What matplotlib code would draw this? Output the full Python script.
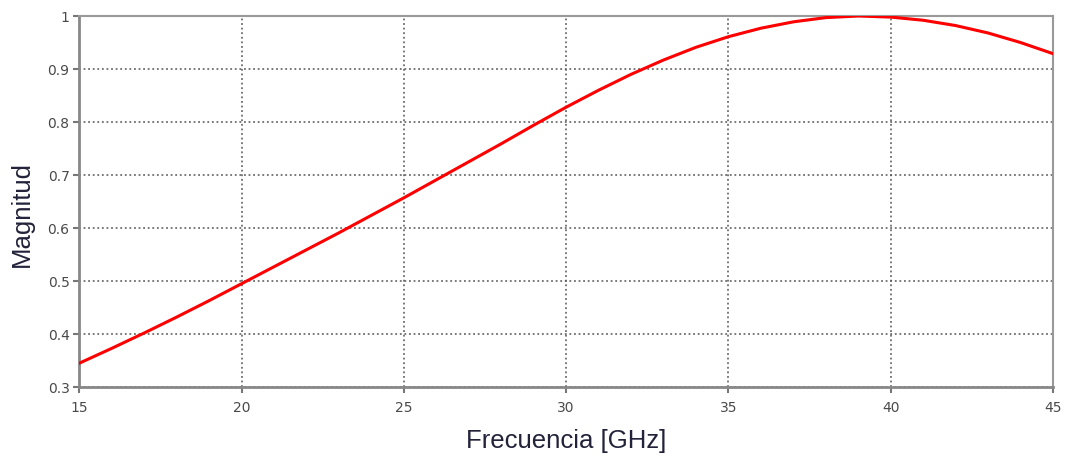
import matplotlib
matplotlib.use("Agg")
import matplotlib.pyplot as plt

# Frequency sweep (GHz) and normalized magnitude response
freq_ghz = [15, 16, 17, 18, 19, 20, 21, 22, 23, 24, 25, 26, 27, 28, 29, 30,
            31, 32, 33, 34, 35, 36, 37, 38, 39, 40, 41, 42, 43, 44, 45]
magnitude = [0.345, 0.373, 0.402, 0.432, 0.463, 0.495, 0.527, 0.559, 0.591,
             0.624, 0.657, 0.691, 0.725, 0.759, 0.794, 0.828, 0.860, 0.890,
             0.917, 0.941, 0.961, 0.977, 0.989, 0.997, 1.000, 0.998, 0.992,
             0.982, 0.968, 0.950, 0.929]

x_ticks = [15, 20, 25, 30, 35, 40, 45]
y_ticks = [0.3, 0.4, 0.5, 0.6, 0.7, 0.8, 0.9, 1.0]
y_tick_labels = ["0.3", "0.4", "0.5", "0.6", "0.7", "0.8", "0.9", "1"]

fig = plt.figure(figsize=(10.65, 4.63), dpi=100)
ax = fig.add_axes([0.0745, 0.1641, 0.9142, 0.8013])

ax.plot(freq_ghz, magnitude, color="#ff0000", linewidth=2.2,
        solid_joinstyle="round", zorder=3)

ax.set_xlim(15, 45)
ax.set_ylim(0.3, 1.0)
ax.set_xticks(x_ticks)
ax.set_yticks(y_ticks)
ax.set_yticklabels(y_tick_labels)

ax.grid(True, color="#555555", linestyle=(0, (1.2, 1.8)), linewidth=1.1)

for side in ("left", "bottom"):
    ax.spines[side].set_color("#888888")
    ax.spines[side].set_linewidth(2.0)
for side in ("top", "right"):
    ax.spines[side].set_color("#999999")
    ax.spines[side].set_linewidth(1.5)

ax.tick_params(axis="both", direction="out", length=4, width=1.5,
               color="#777777", labelsize=10, labelcolor="#4a4a4a")
ax.tick_params(axis="x", pad=6)
ax.tick_params(axis="y", pad=3)
for lbl in ax.get_xticklabels() + ax.get_yticklabels():
    lbl.set_family("DejaVu Sans")

ax.set_xlabel("Frecuencia [GHz]", fontsize=18.5, family="Liberation Sans",
              color="#22223a", labelpad=10)
ax.set_ylabel("Magnitud", fontsize=18.5, family="Liberation Sans",
              color="#22223a")
ax.yaxis.set_label_coords(-0.047, 0.466)

fig.savefig("out.png", dpi=100, facecolor="white")
